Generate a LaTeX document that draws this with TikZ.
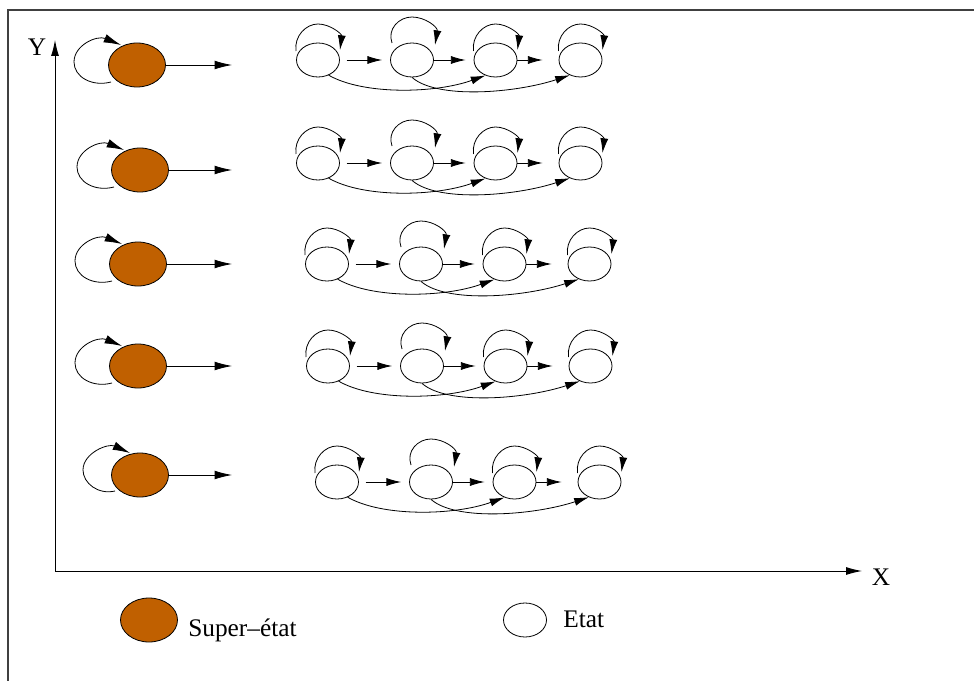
\documentclass[tikz,border=0pt]{standalone}
\usepackage{fontspec}
\setmainfont{Liberation Serif}
\usetikzlibrary{arrows.meta,shapes.geometric,calc}
\definecolor{superc}{RGB}{192,96,0}
\tikzset{
  st/.style={draw, ellipse, minimum width=32.25pt, minimum height=25.5pt, inner sep=0pt, line width=0.6pt},
  sup/.style={draw, ellipse, fill=superc, minimum width=42.75pt, minimum height=33pt, inner sep=0pt, line width=0.6pt},
  arr/.style={-{Latex[length=11pt,width=6pt]}, line width=0.6pt},
  bigarr/.style={-{Latex[length=13pt,width=6.5pt]}, line width=0.6pt},
  axarr/.style={-{Latex[length=12pt,width=6pt]}, line width=0.7pt},
  lbl/.style={font=\fontsize{19}{22}\selectfont, inner sep=0pt},
}
\newcommand\chainrow[3]{%
  \node[st] (#1a) at (#2,#3) {};
  \node[st] (#1b) at (#2+94,#3) {};
  \node[st] (#1c) at (#2+177.5,#3) {};
  \node[st] (#1d) at (#2+262.5,#3) {};
  \foreach \k in {a,c,d}{
    \begin{scope}[shift={(#1\k)}]
      \draw[arr] (-22,-9) .. controls (-24,-24) and (-12,-36) .. (0,-36)
                 .. controls (12,-36) and (24,-26) .. (22,-10);
    \end{scope}
  }
  \begin{scope}[shift={(#1b)}]
    \draw[arr] (-20,-17) .. controls (-25,-31) and (-13,-43) .. (0,-43)
               .. controls (13,-43) and (26,-33) .. (23,-15);
  \end{scope}
  \draw[arr, shorten <=5pt, shorten >=6pt] (#1a) -- (#1b);
  \draw[arr, shorten >=6pt] (#1b) -- (#1c);
  \draw[arr, shorten >=12pt] (#1c) -- (#1d);
  \draw[arr] (#1a.-55) .. controls +(35,20) and +(-50,18) .. (#1c.-123);
  \draw[arr] (#1b.-90) .. controls +(25,22) and +(-55,18) .. (#1d.-125);
}
\newcommand\superrow[3]{%
  \node[sup] (#1) at (#2,#3) {};
  \coordinate (#1e) at (232,#3);
  \draw[bigarr] (#1) -- (#1e);
}
\begin{document}
\begin{tikzpicture}[x=0.75pt,y=-0.75pt]
\useasboundingbox (0,0) rectangle (974,681);
\draw[line width=1.2pt, black!75] (8,681) -- (8,10) -- (974,10);
% axes
\coordinate (O) at (55,571);
\coordinate (Ytop) at (55,40);
\coordinate (Xend) at (862,571);
\draw[axarr] (O) -- (Ytop);
\draw[axarr] (O) -- (Xend);
\node[lbl] (ylab) at (37,47) {Y};
\node[lbl] (xlab) at (881,577) {X};
% super states
\superrow{s1}{137}{65}
\superrow{s2}{140}{170}
\superrow{s3}{138}{264}
\superrow{s4}{138}{366}
\superrow{s5}{140}{475}
\foreach \n in {s1,s2,s3,s4}{
  \begin{scope}[shift={(\n)}]
    \draw[bigarr] (-26,17) .. controls (-45,22) and (-63,12) .. (-63,-3)
                  .. controls (-63,-20) and (-40,-30) .. (-16,-20);
  \end{scope}
}
\begin{scope}[shift={(s5)}]
  \draw[bigarr] (-25,16) .. controls (-42,20) and (-57,8) .. (-57,-5)
                .. controls (-57,-22) and (-32,-32) .. (-10,-22);
\end{scope}
% chains
\chainrow{r1}{318}{60}
\chainrow{r2}{318}{163}
\chainrow{r3}{327}{264}
\chainrow{r4}{328}{366}
\chainrow{r5}{337}{482}
% legend
\node[sup] (ls) at (149,620) {};
\node[lbl, anchor=base west] (lst) at (188,636) {Super–état};
\node[st] (le) at (525,620) {};
\node[lbl, anchor=base west] (let) at (563,627) {Etat};
\end{tikzpicture}
\end{document}
